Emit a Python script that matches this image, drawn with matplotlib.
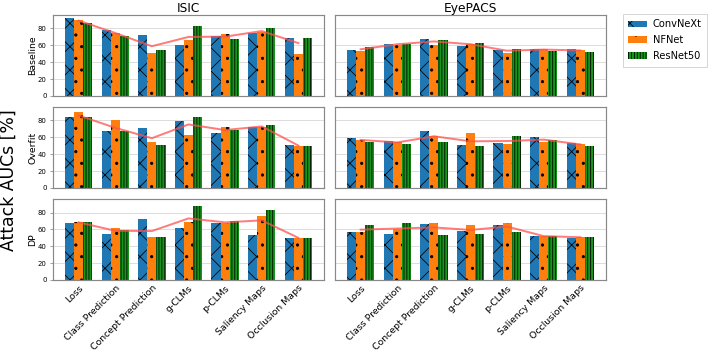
import numpy as np
import matplotlib.pyplot as plt
from matplotlib.patches import Patch

methods = ["Loss", "Class Prediction", "Concept Prediction", "g-CLMs",
           "p-CLMs", "Saliency Maps", "Occlusion Maps"]
models = ["ConvNeXt", "NFNet", "ResNet50"]
datasets = ["ISIC", "EyePACS"]
settings = ["Baseline", "Overfit", "DP"]

# valori, ordine: ConvNeXt, NFNet, ResNet50
isic_baseline = [[92, 78, 72, 61, 71, 75, 69],
                 [90, 75, 51, 66, 73, 76, 50],
                 [86, 71, 54, 83, 67, 80, 69]]
isic_overfit = [[84, 67, 71, 79, 65, 72, 51],
                [90, 80, 55, 63, 72, 72, 50],
                [84, 67, 51, 84, 69, 75, 50]]
isic_dp = [[67, 54, 72, 62, 67, 53, 50],
           [69, 62, 51, 69, 68, 76, 50],
           [69, 59, 51, 88, 70, 83, 50]]
eye_baseline = [[55, 62, 67, 59, 54, 56, 56],
                [53, 60, 61, 62, 51, 56, 54],
                [58, 62, 66, 63, 56, 53, 52]]
eye_overfit = [[59, 56, 68, 51, 53, 61, 53],
               [57, 54, 62, 65, 52, 54, 52],
               [55, 52, 54, 50, 62, 57, 50]]
eye_dp = [[57, 55, 66, 58, 65, 52, 50],
          [57, 61, 68, 65, 68, 52, 51],
          [65, 67, 53, 55, 57, 52, 51]]

data = {("ISIC", "Baseline"): isic_baseline, ("ISIC", "Overfit"): isic_overfit,
        ("ISIC", "DP"): isic_dp, ("EyePACS", "Baseline"): eye_baseline,
        ("EyePACS", "Overfit"): eye_overfit, ("EyePACS", "DP"): eye_dp}

colors = ["#1f77b4", "#ff7f0e", "#17951a"]
hatches = ["x", ".", "||||"]
plt.rcParams['hatch.linewidth'] = 0.8

# figura 10x5 pollici a dpi basso -> 708x354 px
fig = plt.figure(figsize=(10, 5), dpi=70.8)
W, H = 708, 354
lefts = [53, 335]
tops = [15, 107, 199]
aw, ah = 271, 81

x = np.arange(len(methods))
w = 0.25
for j, ds in enumerate(datasets):
    for i, st in enumerate(settings):
        ax = fig.add_axes([lefts[j] / W, 1 - (tops[i] + ah) / H, aw / W, ah / H])
        vals = np.array(data[(ds, st)])
        for k in range(3):
            ax.bar(x + (k - 1) * w, vals[k], w, color=colors[k], hatch=hatches[k],
                   edgecolor="black", linewidth=0, zorder=2)
        # media dei tre modelli
        ax.plot(x, vals.mean(axis=0), color="#ff5050", alpha=0.75, lw=2, zorder=3)
        ax.set_ylim(0, 96)
        ax.set_xlim(-0.7, 6.7)
        ax.set_yticks([0, 20, 40, 60, 80])
        ax.yaxis.grid(True, color="#dddddd", lw=1, zorder=0)
        ax.set_axisbelow(True)
        for s in ax.spines.values():
            s.set_color("#888888")
            s.set_linewidth(1.2)
        ax.tick_params(axis="y", labelsize=7, length=3, color="#888888")
        ax.tick_params(axis="x", length=0)
        if j == 0:
            fig.text(33 / W, 1 - (tops[i] + ah / 2) / H, st, rotation=90,
                     va="center", ha="center", fontsize=9.5)
        else:
            ax.set_yticklabels([])
            ax.tick_params(axis="y", length=0)
        if i == 0:
            ax.set_title(ds, fontsize=12.5, pad=1)
        if i == 2:
            ax.set_xticks(x)
            ax.set_xticklabels(methods, rotation=45, ha="right", fontsize=9.5,
                               rotation_mode="anchor")
        else:
            ax.set_xticks([])

fig.text(8.5 / W, 1 - 180 / H, "Attack AUCs [%]", rotation=90, va="center",
         ha="center", fontsize=17.5)

handles = [Patch(facecolor=colors[k], hatch=hatches[k], edgecolor="black", linewidth=0)
           for k in range(3)]
fig.legend(handles, models, loc="upper left", bbox_to_anchor=(623 / W, 1 - 14 / H),
           fontsize=10, frameon=True, edgecolor="#cccccc", fancybox=False,
           handlelength=1.9, handletextpad=0.6, borderpad=0.55, labelspacing=0.6,
           borderaxespad=0)

plt.savefig("out.png", dpi=70.8)
